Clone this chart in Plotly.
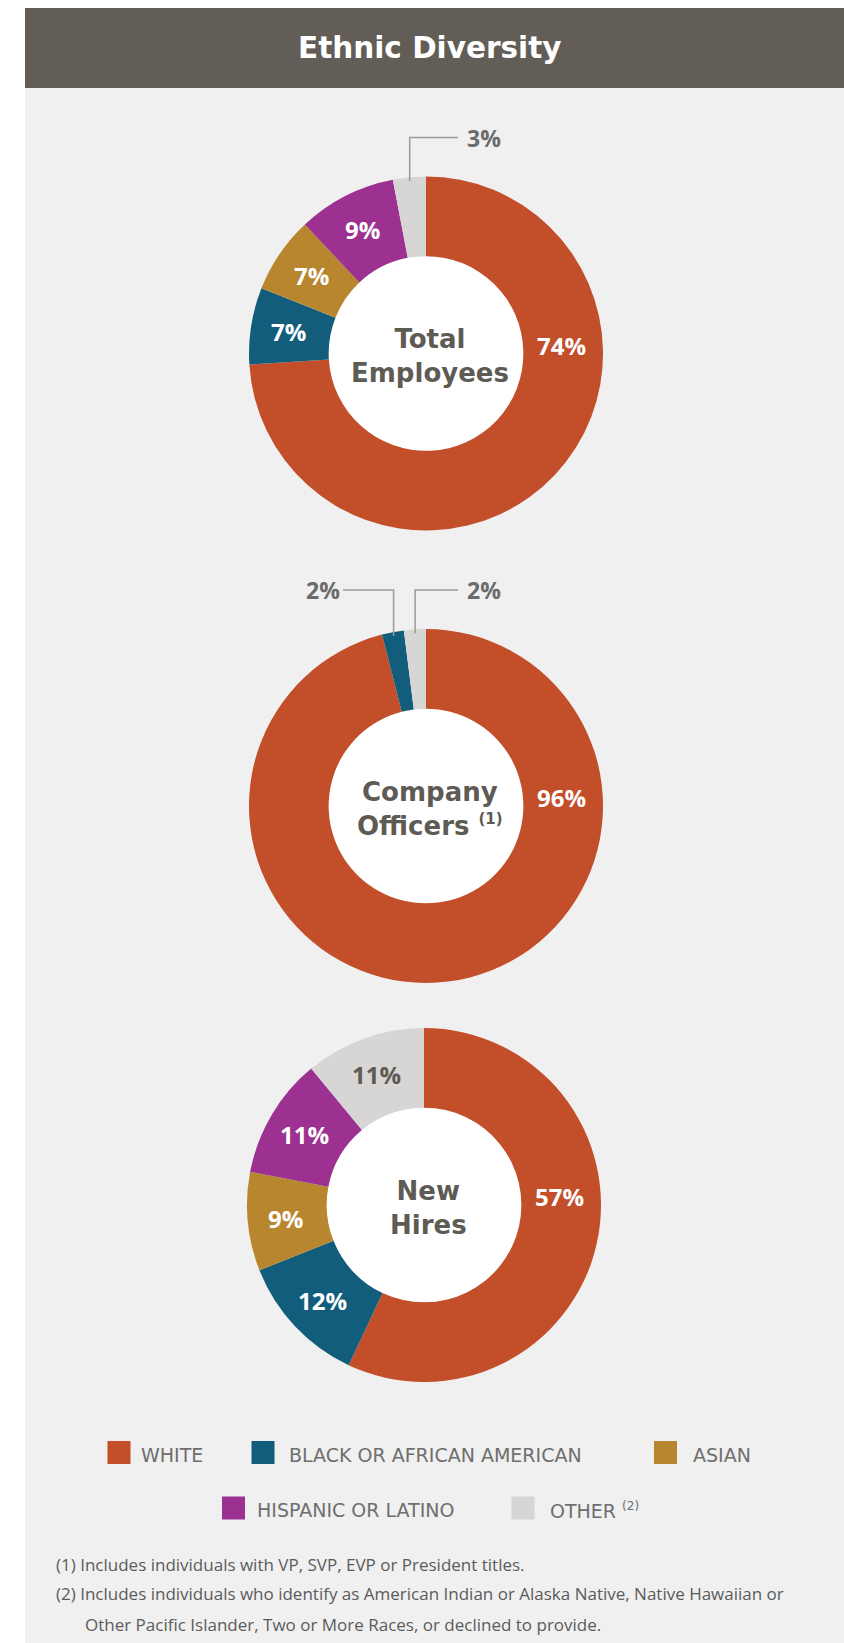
import math
import plotly.graph_objects as go

W, H = 844, 1643

# ---- data -------------------------------------------------------------
CATEGORIES = ["WHITE", "BLACK OR AFRICAN AMERICAN", "ASIAN", "HISPANIC OR LATINO", "OTHER"]
LEGEND_LABELS = ["WHITE", "BLACK OR AFRICAN AMERICAN", "ASIAN", "HISPANIC OR LATINO",
                 "OTHER <sup><span style='font-size:12px'>(2)</span></sup>"]
COLORS = ["#c24e2a", "#135d7c", "#b8862f", "#9c3192", "#d7d6d4"]

TOTAL_EMPLOYEES = [74, 7, 7, 9, 3]
COMPANY_OFFICERS = [96, 2, 0, 0, 2]
NEW_HIRES = [57, 12, 9, 11, 11]

CENTER_TITLES = ["Total<br>Employees",
                 "Company<br>Officers <sup><span style='font-size:15px'>(1)</span></sup>",
                 "New<br>Hires"]

FOOTNOTES = [
    "(1) Includes individuals with VP, SVP, EVP or President titles.",
    "(2) Includes individuals who identify as American Indian or Alaska Native, Native Hawaiian or",
    "Other Pacific Islander, Two or More Races, or declined to provide.",
]

# ---- styling ------------------------------------------------------------
HEAD_FONT = "DejaVu Sans, sans-serif"
NUM_FONT = "Open Sans, sans-serif"
NOTE_FONT = "Open Sans, sans-serif"
HEADER_BG = "#625e57"
PANEL_BG = "#f0f0f0"
DARK_TEXT = "#5e5b55"
CALLOUT_TEXT = "#6b6b6b"
LEADER = "#9a9a9a"
LEGEND_TEXT = "#6e6e6e"
NOTE_TEXT = "#5b5b5b"

R_OUT = 177
HOLE = 0.55
CENTERS = [(426, 353.5), (426, 806), (424, 1205)]
MAIN_LABEL_ANGLE = 86.5   # degrees clockwise from 12 o'clock for the dominant slice
LABEL_R = 139
ELBOW_DY = 216

# legend item placement: (square x0, row centre y, text x0)
LEGEND_POS = [(107.5, 1452.5, 139), (251.5, 1452.5, 287), (654, 1452.5, 691),
              (222, 1508, 255), (511.5, 1508, 548)]
SQ = 23

fig = go.Figure()

# invisible trace anchors a pixel-based cartesian canvas for shapes/text
fig.add_trace(go.Scatter(x=[0, W], y=[0, H], mode="markers",
                         marker=dict(opacity=0), hoverinfo="skip", showlegend=False))

shapes = [
    dict(type="rect", xref="x", yref="y", x0=25, x1=W, y0=8, y1=88,
         fillcolor=HEADER_BG, line=dict(width=0), layer="below"),
    dict(type="rect", xref="x", yref="y", x0=25, x1=W, y0=88, y1=H,
         fillcolor=PANEL_BG, line=dict(width=0), layer="below"),
]
annotations = [
    dict(text="Ethnic Diversity", x=430, y=48, xref="x", yref="y", showarrow=False,
         xanchor="center", yanchor="middle",
         font=dict(family=HEAD_FONT, size=29.5, color="white", weight=700)),
]


def polar(cx, cy, r, deg):
    a = math.radians(deg)
    return cx + r * math.sin(a), cy - r * math.cos(a)


for values, (cx, cy), title in zip([TOTAL_EMPLOYEES, COMPANY_OFFICERS, NEW_HIRES],
                                   CENTERS, CENTER_TITLES):
    total = sum(values)
    fig.add_trace(go.Pie(
        labels=CATEGORIES, values=values, hole=HOLE, sort=False,
        direction="clockwise", rotation=0, textinfo="none",
        marker=dict(colors=COLORS, line=dict(width=0)),
        hoverinfo="label+percent", showlegend=False,
        domain=dict(x=[(cx - R_OUT) / W, (cx + R_OUT) / W],
                    y=[1 - (cy + R_OUT) / H, 1 - (cy - R_OUT) / H]),
    ))
    # white disc behind the donut hole
    hr = R_OUT * HOLE + 2
    shapes.append(dict(type="circle", xref="x", yref="y", x0=cx - hr, x1=cx + hr,
                       y0=cy - hr, y1=cy + hr, fillcolor="white",
                       line=dict(width=0), layer="below"))

    # centre caption
    annotations.append(dict(text=title, x=cx + 4, y=cy + 2.5, xref="x", yref="y",
                            showarrow=False, xanchor="center", yanchor="middle",
                            font=dict(family=HEAD_FONT, size=26, color=DARK_TEXT, weight=700)))

    # slice labels
    start = 0
    small = []
    vmax = max(values)
    for i, v in enumerate(values):
        if v <= 0:
            continue
        mid = (start + v / 2) / total * 360
        start += v
        label = f"{v}%"
        if v == vmax:
            x, y = polar(cx, cy, 136, MAIN_LABEL_ANGLE)
            annotations.append(dict(text=label, x=x, y=y, xref="x", yref="y", showarrow=False,
                                    xanchor="center", yanchor="middle",
                                    font=dict(family=NUM_FONT, size=24, color="white", weight=700)))
        elif v >= 5:
            x, y = polar(cx, cy, LABEL_R, mid)
            col = DARK_TEXT if CATEGORIES[i] == "OTHER" else "white"
            annotations.append(dict(text=label, x=x, y=y, xref="x", yref="y", showarrow=False,
                                    xanchor="center", yanchor="middle",
                                    font=dict(family=NUM_FONT, size=24, color=col, weight=700)))
        else:
            small.append((mid, label))

    # thin slices get an elbow leader line and an outside label
    small.sort()
    for j, (mid, label) in enumerate(small):
        x0, y0 = polar(cx, cy, R_OUT - 4, mid)
        ye = cy - ELBOW_DY
        if j == len(small) - 1:
            x1 = cx + 32
            tx, anchor = cx + 39, "left"
        else:
            x1 = cx - 83
            tx, anchor = cx - 84, "right"
        shapes.append(dict(type="path", xref="x", yref="y",
                           path=f"M {x0:.1f},{y0:.1f} L {x0:.1f},{ye:.1f} L {x1:.1f},{ye:.1f}",
                           line=dict(color=LEADER, width=1.5), layer="above"))
        annotations.append(dict(text=label, x=tx, y=ye, xref="x", yref="y", showarrow=False,
                                xanchor=anchor, yanchor="middle",
                                font=dict(family=NUM_FONT, size=23, color=CALLOUT_TEXT, weight=700)))

# legend
for (sx, sy, tx), lab, col in zip(LEGEND_POS, LEGEND_LABELS, COLORS):
    shapes.append(dict(type="rect", xref="x", yref="y", x0=sx, x1=sx + SQ,
                       y0=sy - SQ / 2, y1=sy + SQ / 2, fillcolor=col,
                       line=dict(width=0), layer="above"))
    annotations.append(dict(text=lab, x=tx, y=sy + 2, xref="x", yref="y", showarrow=False,
                            xanchor="left", yanchor="middle",
                            font=dict(family=HEAD_FONT, size=19, color=LEGEND_TEXT)))

# footnotes
for (x, y), note in zip([(54, 1564), (54, 1593.5), (83, 1624)], FOOTNOTES):
    annotations.append(dict(text=note, x=x, y=y, xref="x", yref="y", showarrow=False,
                            xanchor="left", yanchor="middle",
                            font=dict(family=NOTE_FONT, size=17, color=NOTE_TEXT)))

fig.update_layout(
    width=W, height=H, margin=dict(l=0, r=0, t=0, b=0),
    paper_bgcolor="white", plot_bgcolor="rgba(0,0,0,0)",
    xaxis=dict(range=[0, W], visible=False, fixedrange=True, domain=[0, 1]),
    yaxis=dict(range=[H, 0], visible=False, fixedrange=True, domain=[0, 1]),
    showlegend=False, shapes=shapes, annotations=annotations,
)

fig.write_html("out.html", config={"displayModeBar": False})
